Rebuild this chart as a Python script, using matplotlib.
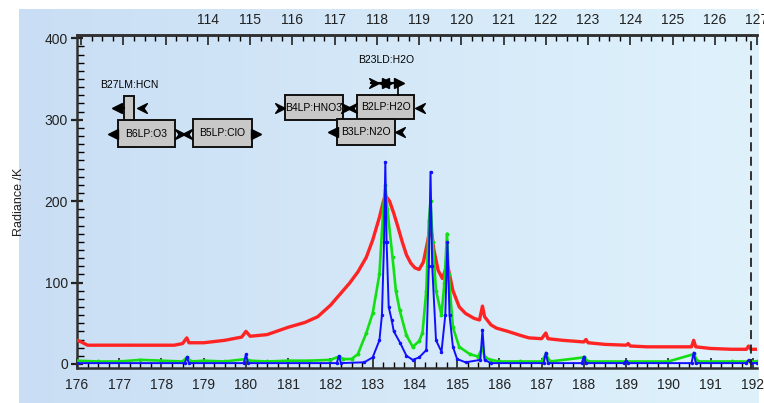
import numpy as np
import matplotlib
matplotlib.use("Agg")
import matplotlib.pyplot as plt
from matplotlib.path import Path
from matplotlib.patches import Rectangle
from matplotlib.ticker import MultipleLocator, FuncFormatter

# spectra (x = bottom axis, y = radiance)
red_x = [176.0, 176.1, 176.25, 176.5, 177.0, 177.5, 178.0, 178.3, 178.5, 178.6, 178.65, 179.0,
         179.5, 179.9, 180.0, 180.1, 180.5, 181.0, 181.4, 181.7, 182.0, 182.2, 182.45, 182.65,
         182.85, 183.0, 183.16, 183.25, 183.3, 183.4, 183.5, 183.6, 183.7, 183.8, 183.9, 184.0,
         184.1, 184.2, 184.3, 184.35, 184.4, 184.45, 184.55, 184.65, 184.72, 184.75, 184.8, 184.9,
         185.05, 185.2, 185.4, 185.53, 185.6, 185.65, 185.8, 185.93, 186.2, 186.5, 186.7, 187.0,
         187.1, 187.15, 187.5, 188.0, 188.05, 188.1, 188.5, 189.0, 189.05, 189.1, 189.5, 190.0,
         190.55, 190.6, 190.65, 191.0, 191.5, 191.85, 191.9, 191.95, 192.1]
red_y = [29, 27, 23, 23, 23, 23, 23, 23, 25, 32, 26, 26,
         29, 33, 40, 34, 36, 45, 51, 58, 72, 84, 99, 113,
         131, 152, 180, 199, 207, 200, 185, 168, 150, 134, 124, 118,
         116, 125, 150, 164, 160, 140, 115, 105, 115, 124, 115, 90,
         70, 62, 56, 54, 71, 58, 48, 44, 40, 35, 32, 31,
         38, 31, 29, 27, 30, 26, 24, 23, 25, 22, 21, 21,
         21, 29, 21, 19, 18, 18, 22, 18, 18]

green_x = [176.0, 176.5, 177.0, 177.5, 178.0, 178.5, 178.6, 178.7, 179.0, 179.5, 180.0, 180.1,
           180.5, 181.0, 181.5, 182.0, 182.2, 182.3, 182.5, 182.65, 182.85, 183.0, 183.16, 183.25,
           183.3, 183.35, 183.47, 183.55, 183.64, 183.8, 183.95, 184.1, 184.18, 184.27, 184.33, 184.37,
           184.42, 184.5, 184.63, 184.7, 184.76, 184.8, 184.9, 185.05, 185.3, 185.5, 185.6, 185.65,
           185.8, 186.0, 186.5, 187.0, 187.1, 187.2, 188.0, 188.1, 189.0, 190.0, 190.6, 190.7,
           191.5, 192.1]
green_y = [4, 3, 3, 5, 4, 3, 8, 3, 4, 3, 6, 4,
           3, 4, 4, 5, 9, 6, 6, 12, 38, 62, 110, 190,
           220, 190, 131, 90, 66, 35, 21, 28, 38, 90, 175, 200,
           150, 90, 60, 100, 160, 110, 45, 21, 12, 9, 21, 8,
           5, 3, 3, 3, 12, 3, 8, 3, 3, 3, 12, 3,
           3, 3]

blue_x = [176.0, 178.55, 178.6, 178.65, 179.95, 180.0, 180.05, 182.15, 182.2, 182.25, 182.8, 183.0,
          183.16, 183.22, 183.27, 183.3, 183.33, 183.38, 183.45, 183.5, 183.65, 183.8, 183.95, 184.1,
          184.27, 184.33, 184.37, 184.41, 184.5, 184.63, 184.72, 184.77, 184.82, 184.9, 185.0, 185.2,
          185.55, 185.6, 185.65, 185.8, 187.05, 187.1, 187.15, 187.95, 188.0, 188.05, 188.95, 189.0,
          189.05, 190.55, 190.6, 190.65, 191.85, 191.9, 191.95, 192.1]
blue_y = [1, 1, 8, 1, 1, 12, 1, 1, 10, 1, 2, 8,
          29, 60, 150, 248, 150, 70, 54, 40, 26, 10, 5, 8,
          17, 120, 236, 120, 29, 15, 60, 150, 60, 21, 6, 2,
          5, 42, 5, 1, 1, 14, 1, 1, 9, 1, 1, 4,
          1, 1, 14, 1, 1, 5, 1, 1]

# band boxes: label, x0, x1, y0, y1
band_names = ["B6LP:O3", "B5LP:ClO", "B4LP:HNO3", "B2LP:H2O", "B3LP:N2O"]
band_x0 = [176.97, 178.74, 180.92, 182.64, 182.15]
band_x1 = [178.32, 180.14, 182.29, 183.99, 183.52]
band_y0 = [266, 266, 299, 301, 269]
band_y1 = [299, 301, 330, 330, 301]

top_offset = 65.1  # top axis = bottom axis - offset

plt.rcParams['font.family'] = ['Liberation Sans', 'DejaVu Sans']

fig = plt.figure(figsize=(7.64, 4.03), dpi=100)
fig.patch.set_facecolor('white')

# light blue gradient panel behind the plot
bg = fig.add_axes([19 / 764, 0, (758 - 19) / 764, 1 - 9 / 403], zorder=0)
grad = np.linspace(0, 1, 256)[None, :]
cmap = matplotlib.colors.LinearSegmentedColormap.from_list('bgc', ['#c9def4', '#dff2fc'])
bg.imshow(grad, aspect='auto', cmap=cmap, extent=[0, 1, 0, 1])
bg.axis('off')

ax = fig.add_axes([77 / 764, 1 - 368 / 403, (757 - 77) / 764, (368 - 35) / 403], zorder=1)
ax.set_facecolor('none')

ax.plot(red_x, red_y, color='#ff2424', lw=2.4, zorder=3)
ax.plot(green_x, green_y, color='#12e012', lw=1.9, marker='o', ms=1.8, zorder=4)
ax.plot(blue_x, blue_y, color='#1010ff', lw=1.4, marker='o', ms=1.5, zorder=5)

ax.set_xlim(176, 192.1)
ax.set_ylim(-5, 404)

ax.axvline(191.95, color='#222222', lw=1.3, ls=(0, (5, 3)), zorder=6)

for s in ['left', 'bottom', 'top']:
    ax.spines[s].set_linewidth(1.8)
    ax.spines[s].set_color('#303030')
ax.spines['right'].set_visible(False)

ax.xaxis.set_major_locator(MultipleLocator(1))
ax.xaxis.set_minor_locator(MultipleLocator(0.25))
ax.yaxis.set_major_locator(MultipleLocator(100))
ax.yaxis.set_minor_locator(MultipleLocator(10))
ax.tick_params(axis='x', which='major', direction='in', length=7, width=1.2, pad=7,
               labelsize=10, colors='#222222', top=False)
ax.tick_params(axis='x', which='minor', direction='in', length=4, width=1.0, top=False)
ax.tick_params(axis='y', which='major', direction='inout', length=9, width=1.6, pad=2,
               labelsize=10, colors='#222222')
ax.tick_params(axis='y', which='minor', direction='in', length=5, width=1.0)

ax.set_ylabel('Radiance /K', fontsize=9, labelpad=14, color='#222222')

# top axis
top = ax.secondary_xaxis('top', functions=(lambda x: x - top_offset, lambda x: x + top_offset))
top.xaxis.set_major_locator(MultipleLocator(1))
top.xaxis.set_minor_locator(MultipleLocator(0.25))
top.xaxis.set_major_formatter(FuncFormatter(lambda v, p: '%d' % round(v) if v >= 113.5 else ''))
top.tick_params(which='major', direction='in', length=7, width=1.2, pad=6, labelsize=10, colors='#222222')
top.tick_params(which='minor', direction='in', length=4, width=1.0)
top.spines['top'].set_linewidth(1.8)
top.spines['top'].set_color('#303030')

# band boxes
for name, x0, x1, y0, y1 in zip(band_names, band_x0, band_x1, band_y0, band_y1):
    ax.add_patch(Rectangle((x0, y0), x1 - x0, y1 - y0, facecolor='#c8c8c8', edgecolor='#111111',
                           lw=1.4, zorder=7))
    ax.text((x0 + x1) / 2, (y0 + y1) / 2, name, ha='center', va='center', fontsize=7.5, zorder=8)

# small HCN box
ax.add_patch(Rectangle((177.11, 299), 0.24, 30, facecolor='#c8c8c8', edgecolor='#111111', lw=1.4, zorder=7))
ax.text(177.25, 342, 'B27LM:HCN', ha='center', va='center', fontsize=7.5)
ax.text(183.33, 373, 'B23LD:H2O', ha='center', va='center', fontsize=7.5)

# arrow heads
chev_r = Path([(-1, 1), (1, 0), (-1, -1), (-0.3, 0), (-1, 1)],
              [Path.MOVETO, Path.LINETO, Path.LINETO, Path.LINETO, Path.CLOSEPOLY])
chev_l = Path([(1, 1), (-1, 0), (1, -1), (0.3, 0), (1, 1)],
              [Path.MOVETO, Path.LINETO, Path.LINETO, Path.LINETO, Path.CLOSEPOLY])
k = dict(color='black', ms=7, ls='none', zorder=8, clip_on=False)

ax.plot([176.95, 177.11], [314, 314], color='black', lw=1.5, zorder=7)
ax.plot([176.95], [314], marker='<', **k)
ax.plot([177.54], [314], marker=chev_l, **k)
ax.plot([176.85], [283], marker='<', **k)
ax.plot([178.43], [283], marker=chev_r, **k)
ax.plot([178.6], [283], marker=chev_l, **k)
ax.plot([180.23], [283], marker='>', **k)
ax.plot([180.8], [314], marker=chev_r, **k)
ax.plot([182.36], [314], marker=chev_r, **k)
ax.plot([182.52], [314], marker=chev_l, **k)
ax.plot([184.11], [314], marker=chev_l, **k)
ax.plot([182.05], [285], marker='<', **k)
ax.plot([183.64], [285], marker=chev_l, **k)
ax.plot([182.97, 183.68], [345, 345], color='black', lw=1.5, zorder=7)
ax.plot([183.59, 183.59], [345, 330], color='black', lw=1.2, zorder=7)
ax.plot([183.03], [345], marker=chev_r, **k)
ax.plot([183.27], [345], marker='<', **k)
ax.plot([183.34], [345], marker='>', **k)
ax.plot([183.63], [345], marker='>', **k)

fig.savefig('out.png', dpi=100)
